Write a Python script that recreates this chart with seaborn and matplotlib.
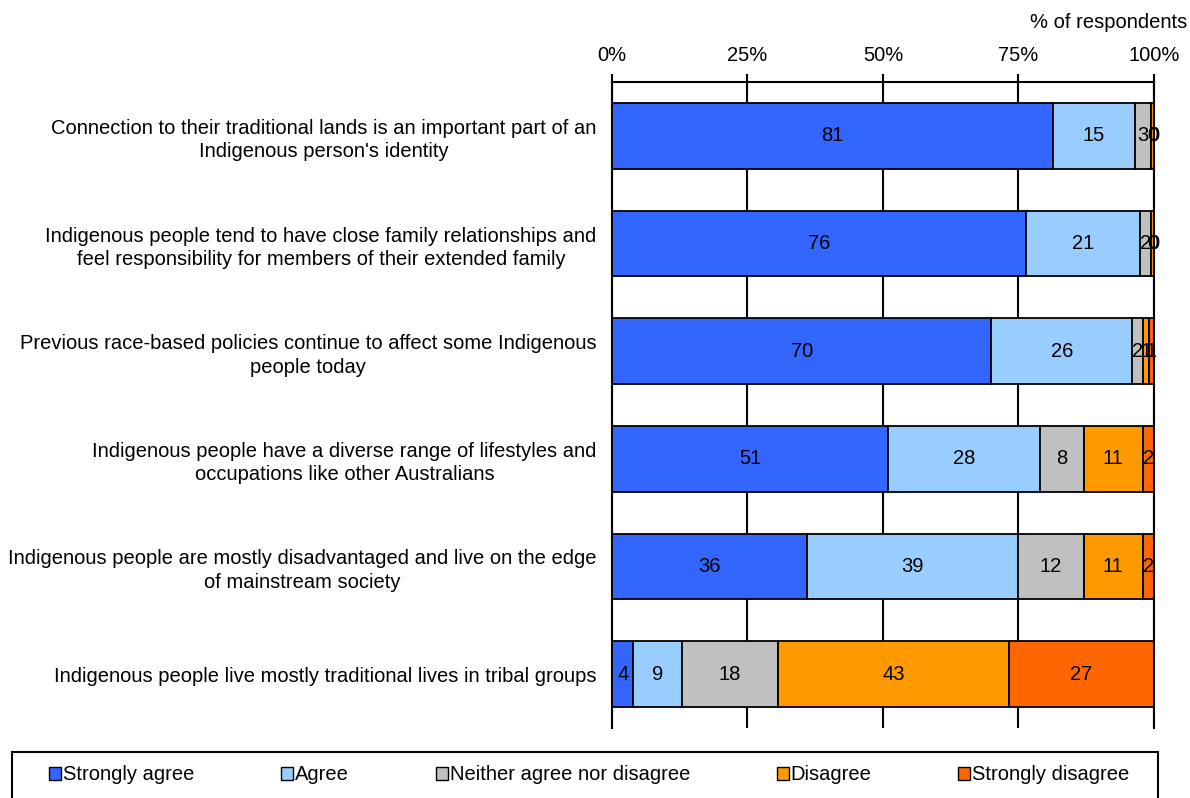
import numpy as np
import pandas as pd
import seaborn as sns
import matplotlib.pyplot as plt
from matplotlib.patches import Patch, Rectangle
from matplotlib.ticker import PercentFormatter

statements = [
    "Connection to their traditional lands is an important part of an\nIndigenous person's identity",
    "Indigenous people tend to have close family relationships and\nfeel responsibility for members of their extended family",
    "Previous race-based policies continue to affect some Indigenous\npeople today",
    "Indigenous people have a diverse range of lifestyles and\noccupations like other Australians",
    "Indigenous people are mostly disadvantaged and live on the edge\nof mainstream society",
    "Indigenous people live mostly traditional lives in tribal groups",
]
responses = ["Strongly agree", "Agree", "Neither agree nor disagree", "Disagree", "Strongly disagree"]

strongly_agree = [81, 76, 70, 51, 36, 4]
agree = [15, 21, 26, 28, 39, 9]
neither = [3, 2, 2, 8, 12, 18]
disagree = [0.5, 0.5, 1, 11, 11, 43]
strongly_disagree = [0, 0, 1, 2, 2, 27]

colors = ["#3366FF", "#99CCFF", "#C0C0C0", "#FF9900", "#FF6600"]

series = [strongly_agree, agree, neither, disagree, strongly_disagree]
df = pd.DataFrame({
    "statement": np.tile(statements, len(responses)),
    "response": np.repeat(responses, len(statements)),
    "value": np.concatenate(series),
})

sns.set_style("white")
plt.rcParams["font.family"] = ["Liberation Sans", "DejaVu Sans"]
plt.rcParams["font.size"] = 14.5
plt.rcParams["text.color"] = "black"
plt.rcParams["xtick.color"] = "black"
plt.rcParams["ytick.color"] = "black"

fig = plt.figure(figsize=(11.9, 7.98), dpi=100)
ax = fig.add_axes([612 / 1190, 70 / 798, 542 / 1190, 646 / 798])

# seaborn stacks the last hue level nearest the baseline, so reverse
sns.histplot(data=df, y="statement", weights="value", hue="response",
             hue_order=responses[::-1], palette=colors[::-1], multiple="fill",
             discrete=True, shrink=0.61, edgecolor="black", linewidth=1.3,
             alpha=1, legend=False, ax=ax)

# numbers inside the segments
for cont in ax.containers:
    fc = cont.patches[0].get_facecolor()
    hexc = "#%02X%02X%02X" % tuple(int(round(c * 255)) for c in fc[:3])
    idx = colors.index(hexc)
    ax.bar_label(cont, labels=[f"{v:.0f}" for v in series[idx]],
                 label_type="center", fontsize=14.5, color="black")

ax.set_xlim(0, 1)
ax.set_ylim(5.5, -0.5)
ax.set_xticks([0, 0.25, 0.5, 0.75, 1])
ax.xaxis.set_major_formatter(PercentFormatter(1, decimals=0))
ax.xaxis.tick_top()
ax.tick_params(axis="x", direction="inout", length=12, width=1.5, pad=6, labelsize=14.5)
ax.set_xlabel("")
ax.set_ylabel("")

ax.set_yticks(range(len(statements)))
ax.set_yticklabels(statements, multialignment="center", linespacing=1.3)
ax.set_yticks(np.arange(-0.5, len(statements), 1), minor=True)
ax.tick_params(axis="y", which="major", length=0, pad=11, labelsize=14.5)
ax.tick_params(axis="y", which="minor", direction="out", length=7, width=1.5)

ax.grid(axis="x", color="black", linewidth=1.5)
ax.set_axisbelow(True)
for side in ["top", "left", "right"]:
    ax.spines[side].set_visible(True)
    ax.spines[side].set_color("black")
    ax.spines[side].set_linewidth(1.5)
ax.spines["bottom"].set_visible(False)

fig.text(1187 / 1190, 1 - 22 / 798, "% of respondents", ha="right", va="center", fontsize=14.5)

# legend box spanning the bottom of the figure
fig.patches.append(Rectangle((12 / 1190, -0.01), 1146 / 1190, 46 / 798 + 0.01,
                             transform=fig.transFigure, facecolor="white",
                             edgecolor="black", linewidth=1.5))
handles = [Patch(facecolor=c, edgecolor="black", label=r) for c, r in zip(colors, responses)]
leg = fig.legend(handles=handles, loc="center left", ncol=5,
                 bbox_to_anchor=(49 / 1190, 1 - 775 / 798),
                 frameon=False, handlelength=0.6, handleheight=0.6,
                 handletextpad=0.1, columnspacing=4.3,
                 borderpad=0, borderaxespad=0, fontsize=14.5)

fig.savefig("out.png", dpi=100)
